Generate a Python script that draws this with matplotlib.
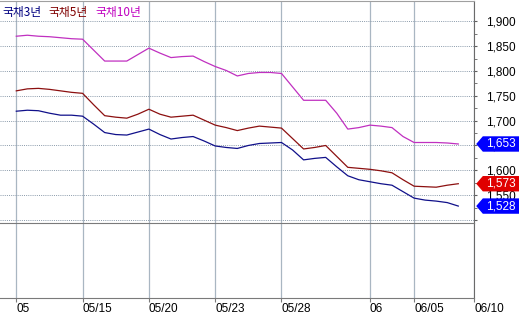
"""
국채 3/5/10년 추이 (상단 가격 패널 + 빈 하단 패널)
"""

import matplotlib.pyplot as plt
import matplotlib.transforms as mtransforms
from matplotlib.patches import Polygon

# data, index = trading day position
y3 = [1719, 1721, 1720, 1715, 1711, 1711, 1709, 1693, 1676, 1672,
      1671, 1677, 1683, 1672, 1663, 1666, 1668, 1659, 1649, 1646,
      1644, 1650, 1654, 1655, 1656, 1641, 1621, 1624, 1626, 1607,
      1589, 1581, 1577, 1573, 1570, 1557, 1544, 1540, 1538, 1535, 1528]
y5 = [1760, 1764, 1765, 1763, 1760, 1757, 1755, 1732, 1710, 1707,
      1705, 1713, 1723, 1713, 1707, 1709, 1711, 1701, 1691, 1686,
      1680, 1685, 1689, 1687, 1685, 1664, 1643, 1646, 1650, 1628,
      1606, 1604, 1602, 1599, 1595, 1581, 1568, 1567, 1566, 1570, 1573]
y10 = [1870, 1872, 1870, 1869, 1867, 1865, 1864, 1842, 1820, 1820,
       1820, 1833, 1846, 1836, 1827, 1829, 1830, 1819, 1809, 1801,
       1790, 1795, 1797, 1797, 1795, 1768, 1741, 1741, 1741, 1715,
       1683, 1686, 1691, 1689, 1686, 1668, 1656, 1656, 1656, 1655, 1653]
names = ['국채3년', '국채5년', '국채10년']
line_colors = ['#10108a', '#8c1010', '#c030c0']
tag_colors = ['#0000ff', '#e00000', '#0000ff']

xtick_pos = [0, 6, 12, 18, 24, 32, 36, 41.45]
xtick_labels = ['05', '05/15', '05/20', '05/23', '05/28', '06', '06/05', '06/10']
ytick_vals = [1500, 1550, 1600, 1650, 1700, 1750, 1800, 1850, 1900]

num_font = ['Liberation Sans', 'DejaVu Sans']
plt.rcParams['font.family'] = ['Noto Sans CJK KR', 'DejaVu Sans']

fig = plt.figure(figsize=(5.19, 3.16), dpi=100)
ax = fig.add_axes([0, 0.2943, 0.9139, 0.7025])
ax2 = fig.add_axes([0, 0.057, 0.9139, 0.2373], sharex=ax)

x = list(range(len(y3)))
for ys, c in zip([y3, y5, y10], line_colors):
    ax.plot(x, ys, color=c, lw=0.9, zorder=3)

ax.set_xlim(-1.475, 41.45)
ax.set_ylim(1493.9, 1940.9)

# right axis
ax.yaxis.tick_right()
ax.set_yticks(ytick_vals)
ax.set_yticklabels([''] + [f"{v:,}" for v in ytick_vals[1:]], family=num_font, fontsize=8.5)
ax.set_yticks([v + 25 for v in ytick_vals[:-1]], minor=True)
ax.tick_params(axis='y', which='both', length=2.5, pad=6, color='#606060')
ax.tick_params(axis='x', which='both', length=0, labelbottom=False)
ax.set_xticks(xtick_pos)

ax.grid(axis='y', color='#8a9aaa', linestyle=(0, (1, 1.2)), lw=0.7)
ax.grid(axis='x', color='#a9b6c2', lw=0.9)
ax2.grid(axis='x', color='#a9b6c2', lw=0.9)

for a in (ax, ax2):
    a.spines['left'].set_visible(False)
    a.spines['right'].set_color('#6a6a6a')
ax.spines['top'].set_color('#a0a0a0')
ax.spines['bottom'].set_visible(False)
ax2.spines['top'].set_color('#7a7a7a')
ax2.spines['bottom'].set_color('#7a7a7a')

ax2.set_yticks([])
ax2.set_xticks(xtick_pos)
ax2.set_xticklabels(xtick_labels, family=num_font, fontsize=8.5, ha='left')
ax2.tick_params(axis='x', length=3, pad=0.5, color='#7a7a7a')

# legend text
lx = [0.005, 0.094, 0.183]
for n, c, px in zip(names, ['#000080', '#800000', '#c000c0'], lx):
    fig.text(px, 0.96, n, color=c, fontsize=8.5, va='center', ha='left')

# last value tags
trans = mtransforms.blended_transform_factory(ax.transAxes, ax.transData)
h = 15.5
for ys, tc in zip([y10, y5, y3], [tag_colors[2], tag_colors[1], tag_colors[0]]):
    v = ys[-1]
    verts = [(1.004, v), (1.018, v + h), (1.2, v + h), (1.2, v - h), (1.018, v - h)]
    ax.add_patch(Polygon(verts, closed=True, transform=trans, fc=tc, ec='none',
                         clip_on=False, zorder=5))
    ax.text(1.025, v, f"{v:,}", transform=trans, color='white', fontsize=8.5,
            family=num_font, va='center', ha='left', zorder=6, clip_on=False)

plt.savefig("out.png", dpi=100)
